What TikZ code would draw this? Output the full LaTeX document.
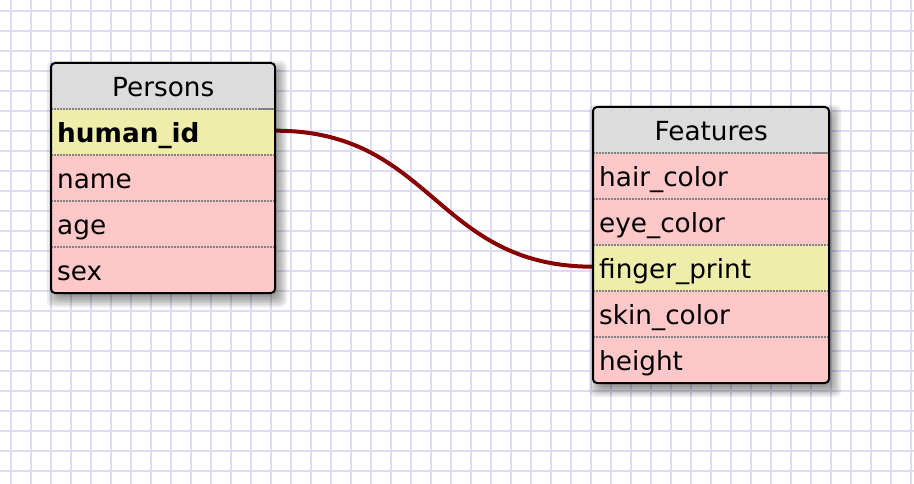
\documentclass[tikz,border=0pt]{standalone}
\usepackage{fontspec}
\setmainfont{DejaVu Sans}
\pgfdeclarelayer{bg}
\pgfsetlayers{bg,main}
\definecolor{gridc}{RGB}{220,220,246}
\definecolor{hdrc}{RGB}{220,220,220}
\definecolor{keyc}{RGB}{238,238,170}
\definecolor{fldc}{RGB}{255,200,200}
\definecolor{sepc}{RGB}{128,128,128}
\definecolor{connc}{RGB}{136,0,0}
\newcommand\rowfont{\fontsize{26.3}{30}\selectfont}
\newcommand\tblshadow[4]{%
  \foreach \d in {-4,-2,0,2,4,6,8}{%
    \fill[black,opacity=0.075,rounded corners=6pt]
      ({#1+4-(\d)},{#2+6-(\d)}) rectangle ({#3+4+(\d)},{#4+6+(\d)});}}
\newcommand\tblframe[5]{% x1 y1 x2 y2 rows
  \draw[sepline] (#1,{#2+46}) -- ({#3-17},{#2+46});
  \draw[sepc,line width=2pt] ({#3-17},{#2+46}) -- (#3,{#2+46});
  \foreach \r in {2,...,#5}{\draw[sepline] (#1,{#2+46*\r}) -- (#3,{#2+46*\r});}
  \draw[line width=2pt,rounded corners=4pt] (#1,#2) rectangle (#3,#4);}
\begin{document}
\begin{tikzpicture}[x=1pt,y=-1pt,
  gridline/.style={draw=gridc,line width=2pt},
  cell/.style={rectangle,inner xsep=6pt,inner ysep=0pt,text height=33.5pt,
    text depth=12.5pt,anchor=north west,font=\rowfont},
  hdr/.style={cell,fill=hdrc,align=center},
  keyrow/.style={cell,fill=keyc,align=left},
  fldrow/.style={cell,fill=fldc,align=left},
  pw/.style={text width=212pt},
  fw/.style={text width=224pt},
  sepline/.style={draw=sepc,line width=2pt,dash pattern=on 1.5pt off 1.5pt},
  conn/.style={draw=connc,line width=4pt}]
\useasboundingbox (0,0) rectangle (914,484);
\begin{pgfonlayer}{bg}
  \fill[white] (0,0) rectangle (914,484);
  \foreach \x in {11,31,...,911}{\draw[gridline] (\x,0) -- (\x,484);}
  \foreach \y in {11,31,...,471}{\draw[gridline] (0,\y) -- (914,\y);}
\end{pgfonlayer}
% Persons
\tblshadow{51}{63}{275}{293}
\begin{scope}
  \clip[rounded corners=4pt] (51,63) rectangle (275,293);
  \node[hdr,pw] (persons) at (51,63) {Persons};
  \node[keyrow,pw] (p-human_id) at (51,109) {\textbf{human\_id}};
  \node[fldrow,pw] (p-name) at (51,155) {name};
  \node[fldrow,pw] (p-age) at (51,201) {age};
  \node[fldrow,pw] (p-sex) at (51,247) {sex};
\end{scope}
\tblframe{51}{63}{275}{293}{4}
% Features
\tblshadow{593}{107}{829}{383}
\begin{scope}
  \clip[rounded corners=4pt] (593,107) rectangle (829,383);
  \node[hdr,fw] (features) at (593,107) {Features};
  \node[fldrow,fw] (f-hair_color) at (593,153) {hair\_color};
  \node[fldrow,fw] (f-eye_color) at (593,199) {eye\_color};
  \node[keyrow,fw] (f-finger_print) at (593,245) {finger\_print};
  \node[fldrow,fw] (f-skin_color) at (593,291) {skin\_color};
  \node[fldrow,fw] (f-height) at (593,337) {height};
\end{scope}
\tblframe{593}{107}{829}{383}{5}
\begin{pgfonlayer}{bg}
  \draw[conn] ([yshift=1.5pt]p-human_id.east) .. controls +(158,0) and +(-158,0) .. ([yshift=1.5pt]f-finger_print.west);
\end{pgfonlayer}
\end{tikzpicture}
\end{document}
